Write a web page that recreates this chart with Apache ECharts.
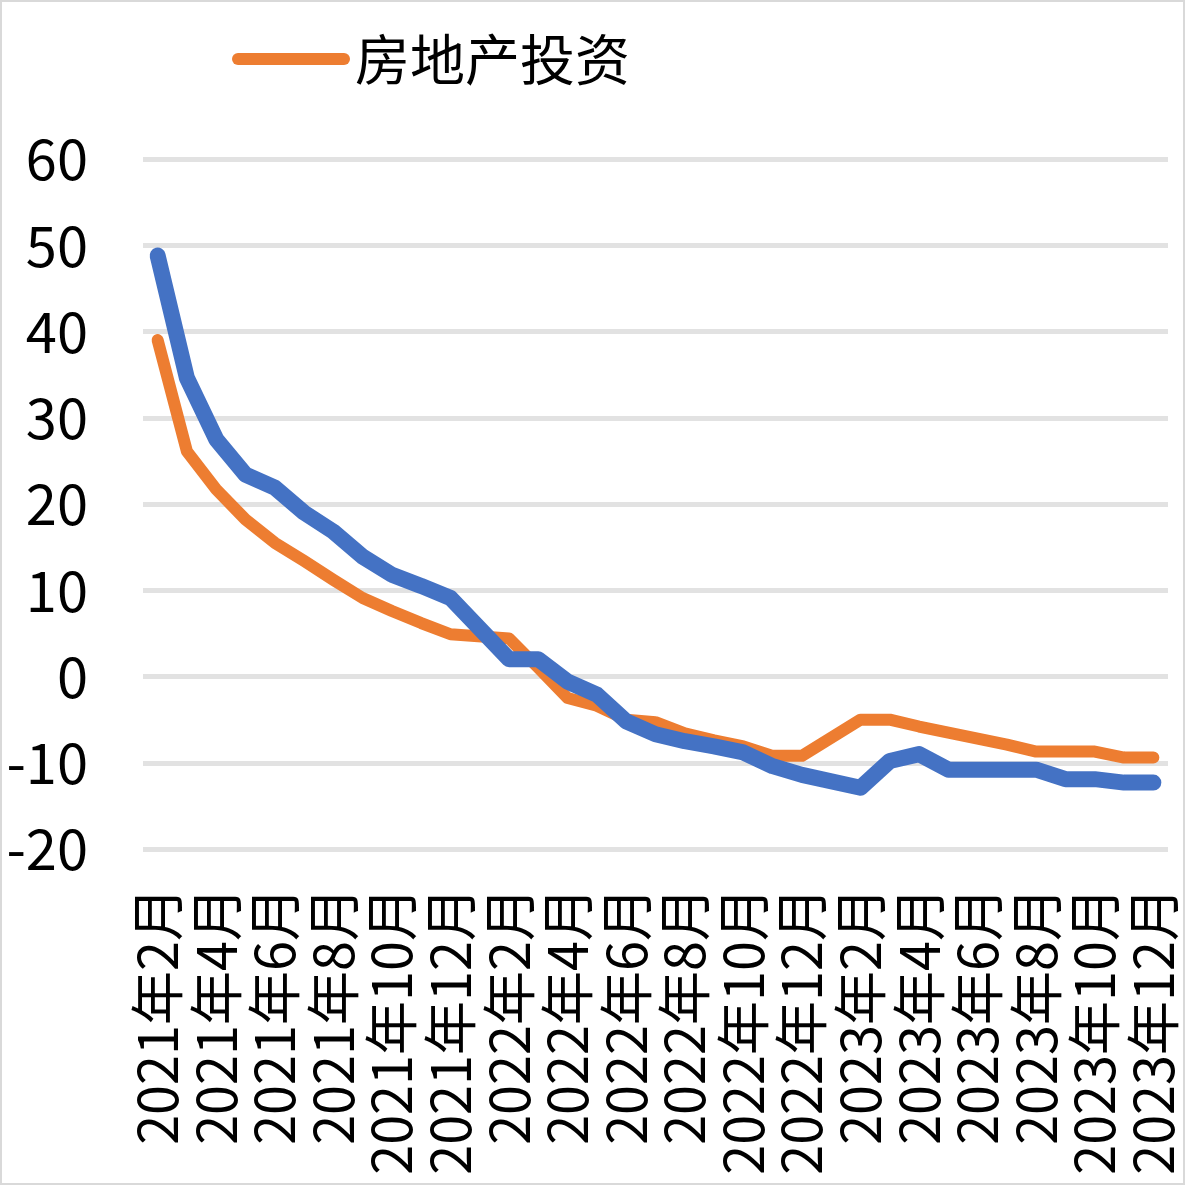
<!DOCTYPE html>
<html>
<head>
<meta charset="utf-8">
<title>房地产投资</title>
<script src="https://cdn.jsdelivr.net/npm/echarts@6/dist/echarts.min.js"></script>
<style>
  html, body { margin: 0; padding: 0; background: #fff; }
  #chart { width: 1185px; height: 1185px; }
</style>
</head>
<body>
<div id="chart"></div>
<script>
// 月份（1月数据缺失，用null跳过）
var months = [
  '2021年2月', '2021年3月', '2021年4月', '2021年5月', '2021年6月', '2021年7月',
  '2021年8月', '2021年9月', '2021年10月', '2021年11月', '2021年12月',
  '2022年1月', '2022年2月', '2022年3月', '2022年4月', '2022年5月', '2022年6月',
  '2022年7月', '2022年8月', '2022年9月', '2022年10月', '2022年11月', '2022年12月',
  '2023年1月', '2023年2月', '2023年3月', '2023年4月', '2023年5月', '2023年6月',
  '2023年7月', '2023年8月', '2023年9月', '2023年10月', '2023年11月', '2023年12月'
];

// 房地产投资 累计同比（%）
var investment = [
  39.0, 26.1, 21.7, 18.2, 15.5, 13.4, 11.2, 9.1, 7.6, 6.2, 4.9,
  null, 4.4, 1.0, -2.5, -3.4, -5.0, -5.3, -6.6, -7.4, -8.1, -9.2, -9.2,
  null, -5.0, -5.0, -5.8, -6.5, -7.2, -7.9, -8.7, -8.7, -8.7, -9.4, -9.4
];

// 蓝线（图例中未显示名称）
var series2 = [
  48.8, 34.6, 27.5, 23.4, 21.9, 19.0, 16.8, 13.9, 11.8, 10.5, 9.1,
  null, 2.0, 2.0, -0.6, -2.1, -5.2, -6.7, -7.5, -8.1, -8.8, -10.4, -11.4,
  null, -12.9, -9.8, -9.0, -10.8, -10.8, -10.8, -10.8, -11.9, -11.9, -12.3, -12.3
];

// y轴刻度
var yMin = -20;
var yMax = 60;
var yStep = 10;

var fontFam = '"Noto Sans CJK SC", "Noto Sans", sans-serif';

var myChart = echarts.init(document.getElementById('chart'));

var option = {
  backgroundColor: '#fff',
  animation: false,
  textStyle: { fontFamily: fontFam },
  graphic: [
    {
      type: 'rect',
      shape: { x: 1, y: 1, width: 1183, height: 1183 },
      style: { fill: 'none', stroke: '#d9d9d9', lineWidth: 2 },
      silent: true
    }
  ],
  legend: {
    data: ['房地产投资'],
    left: 227,
    top: 24,
    itemWidth: 118,
    itemHeight: 12,
    icon: 'path://M6,0 H112 A6,6 0 0 1 112,12 H6 A6,6 0 0 1 6,0 Z',
    textStyle: {
      fontSize: 55,
      color: '#000',
      fontFamily: fontFam,
      lineHeight: 60
    }
  },
  grid: {
    left: 143,
    right: 17,
    top: 159,
    bottom: 336,
    containLabel: false
  },
  xAxis: {
    type: 'category',
    data: months,
    boundaryGap: true,
    axisLine: { show: false },
    axisTick: { show: false },
    axisLabel: {
      interval: 1,
      rotate: 90,
      margin: 38,
      fontSize: 54,
      color: '#000',
      fontFamily: fontFam
    }
  },
  yAxis: {
    type: 'value',
    min: yMin,
    max: yMax,
    interval: yStep,
    axisLine: { show: false },
    axisTick: { show: false },
    axisLabel: {
      fontSize: 56,
      margin: 55,
      color: '#000',
      fontFamily: fontFam
    },
    splitLine: {
      lineStyle: { color: '#e2e2e2', width: 5 }
    }
  },
  series: [
    {
      name: '房地产投资',
      type: 'line',
      data: investment,
      connectNulls: true,
      symbol: 'none',
      z: 2,
      lineStyle: { color: '#ED7D31', width: 12, cap: 'round', join: 'round' },
      itemStyle: { color: '#ED7D31' }
    },
    {
      name: '系列2',
      type: 'line',
      data: series2,
      connectNulls: true,
      symbol: 'none',
      z: 3,
      lineStyle: { color: '#4472C4', width: 16, cap: 'round', join: 'round' },
      itemStyle: { color: '#4472C4' }
    }
  ]
};

myChart.setOption(option);
</script>
</body>
</html>
